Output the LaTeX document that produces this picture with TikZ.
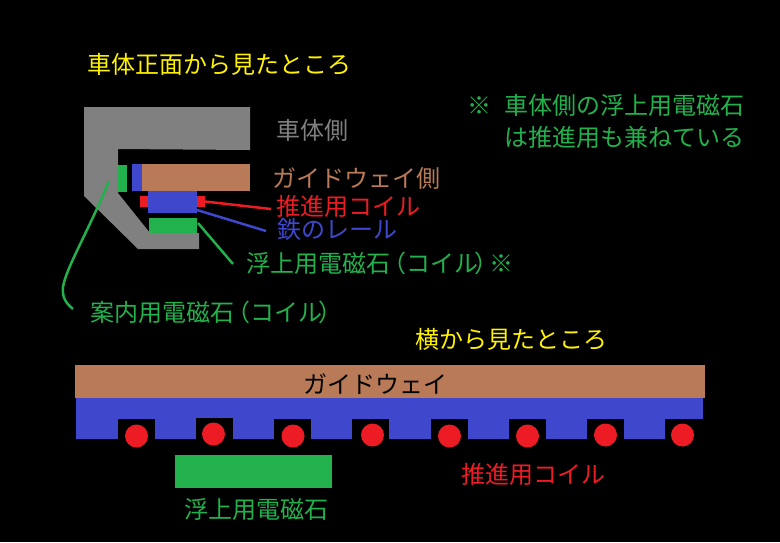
\documentclass[tikz,border=0pt]{standalone}
\usepackage{fontspec}
\setmainfont{Noto Sans CJK JP}
\usetikzlibrary{positioning}
\definecolor{bodygray}{HTML}{808080}
\definecolor{guidebrown}{HTML}{B97A57}
\definecolor{railblue}{HTML}{3F48CC}
\definecolor{coilred}{HTML}{ED1C24}
\definecolor{magnetgreen}{HTML}{22B14C}
\definecolor{titleyellow}{HTML}{FFF200}

\begin{document}
\begin{tikzpicture}[
  x=1pt, y=-1pt,
  every node/.style={font=\fontsize{24}{28}\selectfont},
  part/.style={inner sep=0pt, outer sep=0pt, anchor=north west},
  caption/.style={inner sep=0pt, anchor=west},
  coil/.style={circle, fill=coilred, inner sep=0pt, minimum size=23pt},
  leader/.style={line width=2.5pt}
]
\useasboundingbox (0,0) rectangle (780,542);
\fill[black] (0,0) rectangle (780,542);

% front view
\fill[bodygray] (84,107) -- (250,107) -- (250,150) -- (118,149) -- (118,193) -- (150,233)
  -- (199,233) -- (199,249) -- (138,249) -- (84,196) -- cycle;
\node[part, fill=guidebrown, minimum width=108pt, minimum height=27pt] (guideside) at (142,164) {};
\node[part, fill=railblue, minimum width=10pt, minimum height=27pt] (railside) at (132,164) {};
\node[part, fill=magnetgreen, minimum width=9pt, minimum height=27pt] (guidemagnet) at (118,165) {};
\node[part, fill=railblue, minimum width=49pt, minimum height=22pt] (rail) at (148,191) {};
\node[part, fill=coilred, minimum width=8pt, minimum height=11pt] (coilleft) at (140,196) {};
\node[part, fill=coilred, minimum width=8pt, minimum height=11pt] (coilright) at (197,196) {};
\node[part, fill=magnetgreen, minimum width=48pt, minimum height=15pt] (liftmagnet) at (149,218) {};

\node[caption, titleyellow] (fronttitle) at (87,64) {車体正面から見たところ};
\node[caption, bodygray] (bodylabel) at (276,130) {車体側};
\node[caption, guidebrown] (guidelabel) at (272,178) {ガイドウェイ側};
\node[caption, coilred] (coillabel) at (276,206) {推進用コイル};
\node[caption, railblue] (raillabel) at (277,229) {鉄のレール};
\node[caption, magnetgreen] (liftlabel) at (246,263) {浮上用電磁石\hspace{-8pt}（コイル\hspace{-4pt}）\hspace{-9pt}※};
\node[caption, magnetgreen] (guidemagnetlabel) at (90,312) {案内用電磁石\hspace{-8pt}（コイル\hspace{-4pt}）};
\node[caption, magnetgreen] (notea) at (467,105) {※\hspace{13pt}車体側の浮上用電磁石};
\node[caption, magnetgreen] (noteb) at (504,137) {は推進用も兼ねている};

\coordinate (railstart) at (197,210);
\coordinate (coilend) at (271,209);
\coordinate (railend) at (266,231);
\coordinate (liftstart) at (198,223);
\coordinate (liftend) at (233,264);
\coordinate (guidestart) at (109,181);
\coordinate (guideend) at (73,309);

\draw[leader, coilred] (coilright.east) -- (coilend);
\draw[leader, railblue] (railstart) -- (railend);
\draw[leader, magnetgreen] (liftstart) -- (liftend);
\draw[leader, magnetgreen] (guidestart) .. controls (88,232) and (66,268) .. (63,287)
  .. controls (62,298) and (66,303) .. (guideend);

% side view
\node[caption, titleyellow] (sidetitle) at (415,339) {横から見たところ};
\node[part, fill=railblue, minimum width=627pt, minimum height=41pt] (sidebeam) at (76,398) {};
\node[part, fill=guidebrown, minimum width=630pt, minimum height=33pt] (sideguide) at (75,365) {};
\node[black, inner sep=0pt] (sideguidelabel) at (375,384) {ガイドウェイ};

\foreach \nx/\ny/\cx/\cy in {118/419/136.5/436, 196/418/213.5/434, 274/419/293/436, 352/419/372.5/435,
    431/419/449.5/436, 509/419/527.5/436, 587/419/605.5/435, 665/419/682.5/435} {
  \fill[black] (\nx,\ny) rectangle ++(37,21);
  \node[coil] (coil\nx) at (\cx,\cy) {};
}
\fill[black] (702,419) rectangle (704,440);

\node[part, fill=magnetgreen, minimum width=157pt, minimum height=33pt] (sidemagnet) at (175,455) {};
\node[caption, magnetgreen] (sidemagnetlabel) at (184,509) {浮上用電磁石};
\node[caption, coilred] (sidecoillabel) at (461,474) {推進用コイル};
\end{tikzpicture}
\end{document}
